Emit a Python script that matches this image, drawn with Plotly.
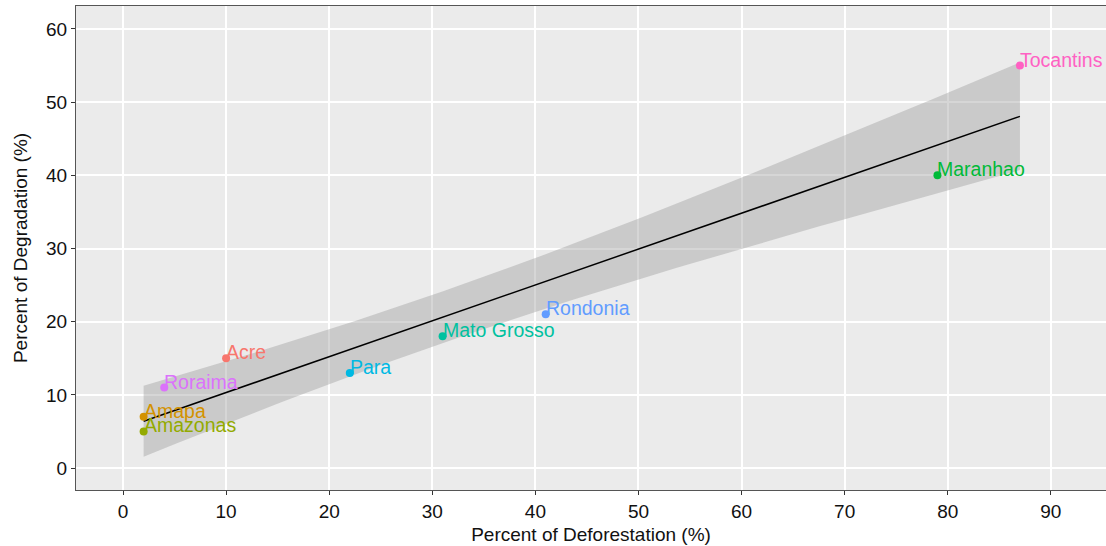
import numpy as np
import plotly.graph_objects as go

states = ["Acre", "Amapa", "Amazonas", "Maranhao", "Mato Grosso", "Para", "Rondonia", "Roraima", "Tocantins"]
deforestation = [10, 2, 2, 79, 31, 22, 41, 4, 87]
degradation = [15, 7, 5, 40, 18, 13, 21, 11, 55]
colors = ["#F8766D", "#D39200", "#93AA00", "#00BA38", "#00C19F", "#00B9E3", "#619CFF", "#DB72FB", "#FF61C3"]

x = np.array(deforestation, dtype=float)
y = np.array(degradation, dtype=float)
n = len(x)
b1, b0 = np.polyfit(x, y, 1)
resid = y - (b0 + b1 * x)
s = np.sqrt(np.sum(resid ** 2) / (n - 2))
sxx = np.sum((x - x.mean()) ** 2)
t_crit = 2.364624  # t(0.975, df=7)
xs = np.linspace(x.min(), x.max(), 80)
fit = b0 + b1 * xs
se = s * np.sqrt(1.0 / n + (xs - x.mean()) ** 2 / sxx)
lo = fit - t_crit * se
hi = fit + t_crit * se

FONT = "Liberation Sans, Arial"

fig = go.Figure()
fig.add_trace(go.Scatter(
    x=np.concatenate([xs, xs[::-1]]), y=np.concatenate([hi, lo[::-1]]),
    fill="toself", fillcolor="rgba(153,153,153,0.4)", line=dict(width=0),
    mode="lines", hoverinfo="skip", showlegend=False))
fig.add_trace(go.Scatter(x=xs, y=fit, mode="lines", line=dict(color="black", width=1.5), showlegend=False))
fig.add_trace(go.Scatter(x=deforestation, y=degradation, mode="markers",
                         marker=dict(color=colors, size=8), showlegend=False))

for sname, xv, yv, c in zip(states, deforestation, degradation, colors):
    fig.add_annotation(x=xv, y=yv, text=sname, showarrow=False, xanchor="left", yanchor="middle",
                       xshift=-2, yshift=6, font=dict(color=c, size=19.5, family=FONT))

axis_common = dict(
    showgrid=True, gridcolor="white", gridwidth=1.5, zeroline=False,
    showline=True, linecolor="#555555", linewidth=1, mirror=True,
    ticks="outside", ticklen=4, tickcolor="#333333", tickwidth=1,
    tickfont=dict(size=19, color="#111111", family=FONT),
)
fig.update_xaxes(range=[-4.56, 95.35], tickvals=list(range(0, 91, 10)),
                 title=dict(text="Percent of Deforestation (%)", font=dict(size=19, color="#111111"), standoff=6),
                 **axis_common)
fig.update_yaxes(range=[-3.0, 63.14], tickvals=list(range(0, 61, 10)),
                 title=dict(text="Percent of Degradation (%)", font=dict(size=19, color="#111111"), standoff=13),
                 **axis_common)
fig.update_layout(
    width=1106, height=546,
    margin=dict(l=76, r=0, t=6, b=56),
    plot_bgcolor="#EBEBEB", paper_bgcolor="white",
    font=dict(family=FONT, size=19, color="#111111"),
)
fig.write_html("out.html")
